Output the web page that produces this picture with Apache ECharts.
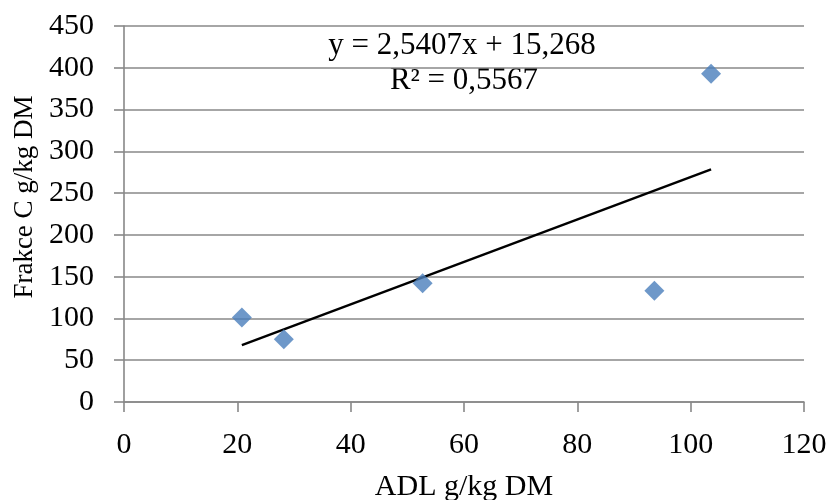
<!DOCTYPE html>
<html>
<head>
<meta charset="utf-8">
<style>
  html, body { margin: 0; padding: 0; background: #fff; }
  #chart { width: 828px; height: 500px; }
</style>
<script src="https://cdn.jsdelivr.net/npm/echarts@6/dist/echarts.min.js"></script>
</head>
<body>
<div id="chart"></div>
<script>
// ADL content vs. fraction C content (g/kg DM)
const adl = [20.8, 28.2, 52.7, 93.6, 103.6];
const frakceC = [101, 75, 142, 133, 393];

// Linear trendline as reported: y = 2,5407x + 15,268
const slope = 2.5407;
const intercept = 15.268;
const rSquared = 0.5567;

const xTicks = { min: 0, max: 120, interval: 20 };
const yTicks = { min: 0, max: 450, interval: 50 };

const points = adl.map((x, i) => [x, frakceC[i]]);
const xMin = Math.min(...adl);
const xMax = Math.max(...adl);
const trend = [[xMin, slope * xMin + intercept], [xMax, slope * xMax + intercept]];

const fmt = v => String(v).replace('.', ',');
const serif = "'Liberation Serif', 'Times New Roman', serif";
const gridGray = '#888888';

const chart = echarts.init(document.getElementById('chart'), null, { renderer: 'canvas' });
chart.setOption({
  animation: false,
  backgroundColor: '#ffffff',
  textStyle: { fontFamily: serif, color: '#000' },
  grid: { left: 124, right: 24, top: 26, bottom: 98, containLabel: false, outerBoundsMode: 'none' },
  xAxis: {
    type: 'value',
    min: xTicks.min, max: xTicks.max, interval: xTicks.interval,
    name: 'ADL g/kg DM',
    nameLocation: 'middle',
    nameGap: 70,
    nameTextStyle: { fontFamily: serif, fontSize: 30, color: '#000' },
    axisLine: { show: true, lineStyle: { color: gridGray, width: 1.6 } },
    axisTick: { show: true, length: 10, lineStyle: { color: gridGray, width: 1.6 } },
    axisLabel: { fontFamily: serif, fontSize: 30, color: '#000', margin: 28 },
    splitLine: { show: false }
  },
  yAxis: {
    type: 'value',
    min: yTicks.min, max: yTicks.max, interval: yTicks.interval,
    name: 'Frakce C g/kg DM',
    nameLocation: 'middle',
    nameGap: 86,
    nameRotate: 90,
    nameTextStyle: { fontFamily: serif, fontSize: 27, color: '#000', padding: [0, 0, 0, 34] },
    axisLine: { show: true, lineStyle: { color: gridGray, width: 1.6 } },
    axisTick: { show: true, length: 10, lineStyle: { color: gridGray, width: 1.6 } },
    axisLabel: { fontFamily: serif, fontSize: 30, color: '#000', margin: 30 },
    splitLine: { show: true, lineStyle: { color: gridGray, width: 1.6 } }
  },
  series: [
    {
      type: 'scatter',
      data: points,
      symbol: 'diamond',
      symbolSize: 20,
      itemStyle: { color: '#4a7ebb' },
      z: 3
    },
    {
      type: 'line',
      data: trend,
      symbol: 'none',
      lineStyle: { color: '#000', width: 2.4 },
      z: 2
    }
  ],
  graphic: [
    {
      type: 'text', x: 462, y: 46,
      style: {
        text: 'y = ' + fmt(slope) + 'x + ' + fmt(intercept),
        font: '31px ' + serif, fill: '#000',
        textAlign: 'center', textVerticalAlign: 'middle'
      }
    },
    {
      type: 'text', x: 464, y: 81,
      style: {
        text: 'R² = ' + fmt(rSquared),
        font: '31px ' + serif, fill: '#000',
        textAlign: 'center', textVerticalAlign: 'middle'
      }
    }
  ]
});
</script>
</body>
</html>
